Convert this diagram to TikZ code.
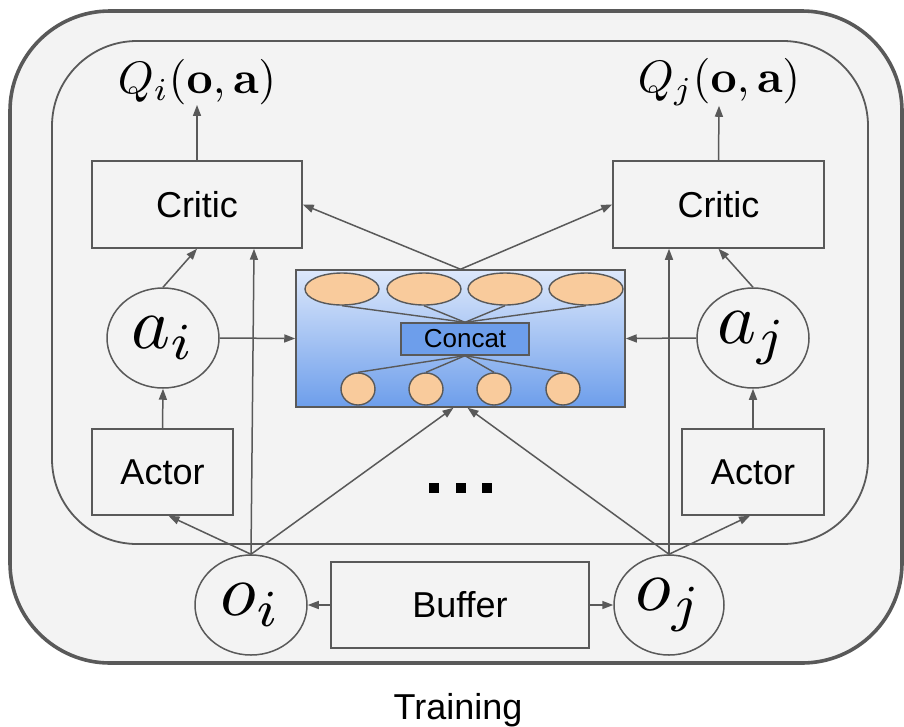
\documentclass[tikz,border=0pt]{standalone}
\usepackage[no-math]{fontspec}
\usepackage{graphicx}
\newfontfamily\labelfont{Liberation Sans}
\usetikzlibrary{arrows.meta,calc,shapes.geometric}

\definecolor{edge}{HTML}{595959}
\definecolor{panel}{HTML}{F3F3F3}
\definecolor{peach}{HTML}{F9CB9C}
\definecolor{cornflower}{HTML}{6D9EEB}
\definecolor{paleblue}{HTML}{DDE8FB}

% math symbols set at 10pt and enlarged
\newcommand{\bigmath}[1]{\scalebox{7.4}{$#1$}}
\newcommand{\qmath}[1]{\scalebox{4.55}{$#1$}}

\tikzset{
  blockbox/.style={draw=edge, line width=1.5pt, fill=panel, inner sep=0pt,
    font=\labelfont\fontsize{36}{40}\selectfont},
  varnode/.style={draw=edge, ellipse, line width=1.5pt, fill=panel, inner sep=0pt,
    minimum width=112pt, minimum height=100pt},
  qlabel/.style={inner sep=0pt},
  arr/.style={draw=edge, line width=1.5pt, -{Triangle[length=11pt,width=8pt]}},
  netline/.style={draw=edge, line width=1.4pt},
  unitbig/.style={draw=edge, ellipse, line width=1.4pt, fill=peach, inner sep=0pt,
    minimum width=74pt, minimum height=32pt},
  unitsmall/.style={draw=edge, ellipse, line width=1.4pt, fill=peach, inner sep=0pt,
    minimum width=34pt, minimum height=32pt},
  dotsq/.style={fill=black, inner sep=0pt, minimum size=10pt},
}

\begin{document}
\begin{tikzpicture}[x=1pt,y=-1pt]
\useasboundingbox (0,0) rectangle (904,726);

% outer training panel and inner agent panel
\draw[draw=edge, line width=3.6pt, fill=panel, rounded corners=100pt]
  (10,11) rectangle (902,663);
\draw[draw=edge, line width=1.8pt, rounded corners=85pt]
  (52,41) rectangle (868,544);

% critics and their outputs
\node[blockbox, minimum width=210pt, minimum height=87pt] (critic_i) at (197,204.5) {Critic};
\node[blockbox, minimum width=211pt, minimum height=87pt] (critic_j) at (718.5,204.5) {Critic};
\node[qlabel] (q_i) at (197,82) {\qmath{Q_i(\mathbf{o},\mathbf{a})}};
\node[qlabel] (q_j) at (719,82) {\qmath{Q_j(\mathbf{o},\mathbf{a})}};

% actions
\node[varnode] (a_i) at (163,338) {\bigmath{a_i}};
\node[varnode] (a_j) at (753,338) {\bigmath{a_j}};

% actors
\node[blockbox, minimum width=141pt, minimum height=86pt] (actor_i) at (162.5,472) {Actor};
\node[blockbox, minimum width=142pt, minimum height=86pt] (actor_j) at (753,472) {Actor};

% observations and replay buffer
\node[varnode] (o_i) at (251,605) {\bigmath{o_i}};
\node[varnode, minimum width=110pt] (o_j) at (669,605) {\bigmath{o_j}};
\node[blockbox, minimum width=258pt, minimum height=86pt] (buffer) at (460,605) {Buffer};

% concatenation network
\node[draw=edge, line width=1.5pt, top color=paleblue, bottom color=cornflower,
      minimum width=329pt, minimum height=137pt, inner sep=0pt] (concat) at (460.5,338.5) {};
\node[draw=edge, line width=1.4pt, fill=cornflower, minimum width=128pt, minimum height=32pt,
      inner sep=0pt, font=\labelfont\fontsize{26}{30}\selectfont] (cat) at (465,339) {Concat};
\foreach \n/\x in {1/342,2/424,3/505,4/586}{
  \node[unitbig] (top\n) at (\x,289) {};
  \draw[netline] (top\n.south) -- (cat.north);
}
\foreach \n/\x in {1/358,2/426,3/494,4/563}{
  \node[unitsmall] (bot\n) at (\x,389) {};
  \draw[netline] (cat.south) -- (bot\n.north);
}

% ellipsis
\node[dotsq] (dot1) at (434,488) {};
\node[dotsq] (dot2) at (461,488) {};
\node[dotsq] (dot3) at (487,488) {};

% training text
\node[anchor=base, inner sep=0pt, font=\labelfont\fontsize{36}{40}\selectfont] (training) at (458,719) {Training};

% connectors
\draw[arr] (critic_i.north) -- (q_i.south);
\draw[arr] (critic_j.north) -- (q_j.south);
\draw[arr] (actor_i.north) -- (a_i.south);
\draw[arr] (actor_j.north) -- (a_j.south);
\draw[arr] (a_i.north) -- (critic_i.south);
\draw[arr] (a_j.north) -- (critic_j.south);
\draw[arr] (a_i.east) -- (concat.west);
\draw[arr] (a_j.west) -- (concat.east);
\draw[arr] (concat.north) -- (critic_i.east);
\draw[arr] (concat.north) -- (critic_j.west);

\draw[arr] (o_i.north) -- ($(actor_i.south)+(6,0)$);
\draw[arr] (o_i.north) -- ($(critic_i.south)+(57,0)$);
\draw[arr] (o_i.north) -- ($(concat.south)+(-7,0)$);
\draw[arr] (o_j.north) -- ($(actor_j.south)+(-3,0)$);
\draw[arr] (o_j.north) -- (o_j.north |- critic_j.south);
\draw[arr] (o_j.north) -- ($(concat.south)+(7,0)$);

\draw[arr] (buffer.west) -- (o_i.east);
\draw[arr] (buffer.east) -- (o_j.west);
\end{tikzpicture}
\end{document}
